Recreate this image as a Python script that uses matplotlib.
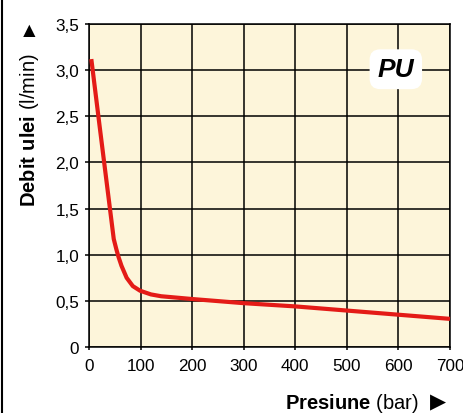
import matplotlib
matplotlib.use('Agg')
import matplotlib.pyplot as plt
from matplotlib.lines import Line2D

plt.rcParams['font.family'] = ['Liberation Sans', 'DejaVu Sans']
plt.rcParams['mathtext.fontset'] = 'custom'
plt.rcParams['mathtext.rm'] = 'Liberation Sans'
plt.rcParams['mathtext.bf'] = 'Liberation Sans:bold'

# curve
pressure = [4.5, 20, 35, 48, 53, 57, 63, 73, 85, 99, 120, 140, 200, 300, 400, 500, 600, 700]
flow = [3.12, 2.42, 1.75, 1.17, 1.06, 0.98, 0.88, 0.75, 0.66, 0.61, 0.57, 0.55, 0.52, 0.475, 0.44, 0.395, 0.35, 0.305]

xticks = [0, 100, 200, 300, 400, 500, 600, 700]
yticks = [0, 0.5, 1.0, 1.5, 2.0, 2.5, 3.0, 3.5]
ylabels = ['0', '0,5', '1,0', '1,5', '2,0', '2,5', '3,0', '3,5']

fig = plt.figure(figsize=(4.64, 4.14), dpi=100)
ax = fig.add_axes([0.1918, 0.1594, 0.778, 0.7802])
ax.set_facecolor('#fdf5da')

ax.plot(pressure, flow, color='#e41b17', lw=3.0, solid_capstyle='butt',
        solid_joinstyle='round', clip_on=False, zorder=3)

ax.set_xlim(0, 700)
ax.set_ylim(0, 3.5)
ax.set_xticks(xticks)
ax.set_xticklabels([str(t) for t in xticks])
ax.set_yticks(yticks)
ax.set_yticklabels(ylabels)
ax.grid(True, color='black', lw=1.1)
ax.set_axisbelow(True)
for s in ax.spines.values():
    s.set_color('black')
    s.set_linewidth(1.1)
ax.tick_params(axis='y', length=3, width=1.1, pad=4, labelsize=12.3)
ax.tick_params(axis='x', length=2, width=1.1, pad=6, labelsize=12.3)

ax.text(595, 3.01, 'PU', fontsize=19, fontweight='bold', fontstyle='italic',
        ha='center', va='center', zorder=4,
        bbox=dict(boxstyle='round,pad=0.3,rounding_size=0.4', fc='white', ec='none'))

fig.text(0.063, 0.5, r'$\mathbf{Debit\ ulei}$ (l/min)', rotation=90,
         ha='center', va='bottom', fontsize=14.5)
fig.text(0.063, 0.925, '▲', ha='center', va='center', fontsize=15)
fig.text(0.902, 0.012, r'$\mathbf{Presiune}$ (bar)', ha='right', va='baseline', fontsize=14.5)
fig.text(0.944, 0.027, '▶', ha='center', va='center', fontsize=15)

fig.add_artist(Line2D([0.005, 0.005], [0, 1], color='black', lw=1.5,
                      transform=fig.transFigure))

plt.savefig('out.png', dpi=100)
